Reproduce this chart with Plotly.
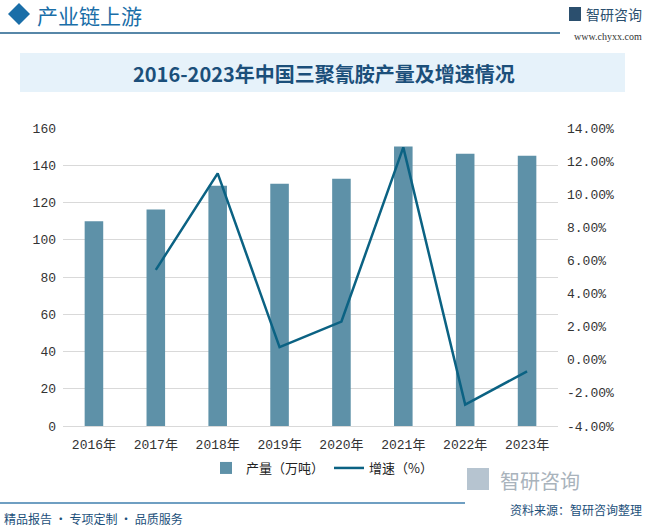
import plotly.graph_objects as go

years = ["2016年", "2017年", "2018年", "2019年", "2020年", "2021年", "2022年", "2023年"]
output = [110, 116.2, 129.0, 130.1, 132.8, 150.1, 146.2, 145.1]
growth = [None, 5.43, 11.26, 0.76, 2.31, 12.83, -2.71, -0.70]
left_ticks = [0, 20, 40, 60, 80, 100, 120, 140, 160]
right_ticks = [-4, -2, 0, 2, 4, 6, 8, 10, 12, 14]
right_tick_text = ["-4.00%", "-2.00%", "0.00%", "2.00%", "4.00%", "6.00%", "8.00%", "10.00%", "12.00%", "14.00%"]

W, H = 647, 527
L, R, T, B = 63, 558, 128, 426

def px(x):
    return (x - L) / (R - L)

def py(y):
    return (B - y) / (B - T)

FONT = "Noto Sans CJK SC"
TICKFONT = "Liberation Mono, Noto Sans CJK SC"

fig = go.Figure()
fig.add_trace(go.Bar(
    x=years, y=output, name="产量（万吨）",
    marker=dict(color="#5E91A8", line=dict(width=0)),
    width=0.3, yaxis="y",
))
fig.add_trace(go.Scatter(
    x=years, y=growth, name="增速（%）", mode="lines",
    line=dict(color="#0B6283", width=2.5), yaxis="y2",
    connectgaps=False,
))

shapes = [
    dict(type="rect", xref="paper", yref="paper", x0=px(20), x1=px(625), y0=py(92), y1=py(53),
         fillcolor="#E6F2FA", line=dict(width=0), layer="below"),
    dict(type="line", xref="paper", yref="paper", x0=px(0), x1=px(560), y0=py(33), y1=py(33),
         line=dict(color="#1F5F8B", width=1.5)),
    dict(type="path", xref="paper", yref="paper",
         path=f"M {px(8)} {py(14)} L {px(19)} {py(3)} L {px(30)} {py(14)} L {px(19)} {py(25)} Z",
         fillcolor="#1A6EA8", line=dict(width=0)),
    dict(type="line", xref="paper", yref="paper", x0=px(0), x1=px(465), y0=py(503), y1=py(503),
         line=dict(color="#3F7FAE", width=1.5)),
    dict(type="rect", xref="paper", yref="paper", x0=px(569), x1=px(581), y0=py(21), y1=py(7),
         fillcolor="#2B4F6E", line=dict(width=0)),
    dict(type="rect", xref="paper", yref="paper", x0=px(467), x1=px(489), y0=py(490), y1=py(468),
         fillcolor="#B6C4D0", line=dict(width=0)),
]

annotations = [
    dict(text="<b>2016-2023年中国三聚氰胺产量及增速情况</b>", x=px(324), y=py(73), xref="paper", yref="paper",
         showarrow=False, font=dict(family=FONT, size=20, color="#1B4F7A"), xanchor="center", yanchor="middle"),
    dict(text="产业链上游", x=px(35), y=py(15), xref="paper", yref="paper", showarrow=False,
         font=dict(family=FONT, size=21, color="#1A6EA8"), xanchor="left", yanchor="middle"),
    dict(text="智研咨询", x=px(644), y=py(14), xref="paper", yref="paper", showarrow=False,
         font=dict(family=FONT, size=14, color="#2B4F6E"), xanchor="right", yanchor="middle"),
    dict(text="www.chyxx.com", x=px(644), y=py(36), xref="paper", yref="paper", showarrow=False,
         font=dict(family="Liberation Serif", size=10, color="#333333"), xanchor="right", yanchor="middle"),
    dict(text="智研咨询", x=px(582), y=py(480), xref="paper", yref="paper", showarrow=False,
         font=dict(family=FONT, size=20, color="#A9B3BC"), xanchor="right", yanchor="middle"),
    dict(text="资料来源：智研咨询整理", x=px(644), y=py(509), xref="paper", yref="paper", showarrow=False,
         font=dict(family=FONT, size=12, color="#1B4F7A"), xanchor="right", yanchor="middle"),
    dict(text="精品报告 · 专项定制 · 品质服务", x=px(2), y=py(518), xref="paper", yref="paper", showarrow=False,
         font=dict(family=FONT, size=12, color="#1B4F7A"), xanchor="left", yanchor="middle"),
]

fig.update_layout(
    width=W, height=H,
    margin=dict(l=L, r=W - R, t=T, b=H - B, pad=0),
    paper_bgcolor="white", plot_bgcolor="white",
    font=dict(family=FONT, size=12, color="#333333"),
    showlegend=True,
    legend=dict(orientation="h", x=px(322), y=py(468), xanchor="center", yanchor="middle",
                font=dict(family=FONT, size=13, color="#222222"), traceorder="normal"),
    xaxis=dict(type="category", showgrid=False, showline=True, linecolor="#D9D9D9", linewidth=1,
               ticks="", tickfont=dict(family=TICKFONT, size=13, color="#333333"), ticklabelstandoff=6),
    yaxis=dict(range=[0, 160], tickvals=left_ticks, showgrid=True, gridcolor="#D9D9D9", gridwidth=1,
               zeroline=False, showline=False, ticks="", tickfont=dict(family=TICKFONT, size=13, color="#333333"),
               ticklabelstandoff=6),
    yaxis2=dict(range=[-4, 14], tickvals=right_ticks, ticktext=right_tick_text, overlaying="y", side="right",
                showgrid=False, zeroline=False, showline=False, ticks="",
                tickfont=dict(family=TICKFONT, size=13, color="#333333"), ticklabelstandoff=8),
    shapes=shapes,
    annotations=annotations,
)

fig.write_html("out.html", config={"displayModeBar": False},
               post_script="document.body.style.margin='0';document.body.style.overflow='hidden';")
